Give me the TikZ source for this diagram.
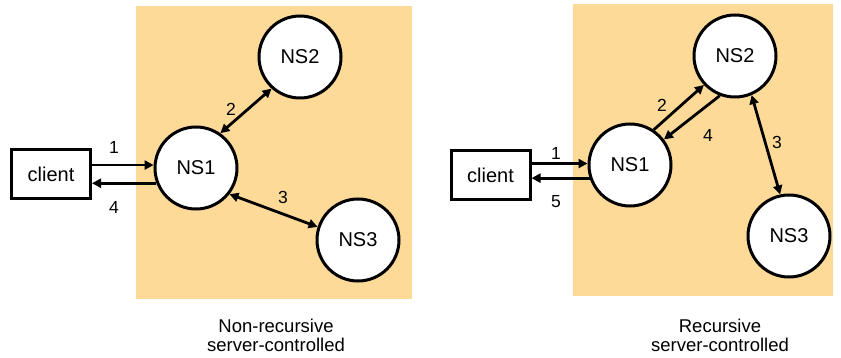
\documentclass[tikz,border=0pt]{standalone}
\usepackage{fontspec}
\setmainfont{Liberation Sans}
\usetikzlibrary{arrows.meta,calc}
\definecolor{panel}{RGB}{253,218,152}
\tikzset{
  ns/.style={circle,draw=black,line width=3pt,fill=white,minimum size=82pt,inner sep=0pt,font=\fontsize{20}{22}\selectfont},
  clientbox/.style={rectangle,draw=black,line width=3pt,fill=white,minimum width=79pt,minimum height=49pt,inner sep=0pt,font=\fontsize{20}{22}\selectfont},
  arr/.style={line width=2.8pt,-{Triangle[length=9pt,width=9pt]}},
  darr/.style={line width=2.8pt,{Triangle[length=9pt,width=9pt]}-{Triangle[length=9pt,width=9pt]}},
  num/.style={font=\fontsize{17.5}{19}\selectfont,inner sep=0pt},
  captext/.style={font=\fontsize{18.5}{20}\selectfont,inner sep=0pt,anchor=base},
}
\begin{document}
\begin{tikzpicture}[x=1pt,y=-1pt]
\useasboundingbox (0,0) rectangle (841,358);
% panels
\fill[panel] (136,6) rectangle (412,299);
\fill[panel] (573,4) rectangle (833,296);
% left
\node[clientbox] (cl) at (51,174.5) {client};
\node[ns] (a1) at (196,168) {NS1};
\node[ns] (a2) at (300,57) {NS2};
\node[ns] (a3) at (358,240) {NS3};
\draw[arr] (cl.east |- a1.176) -- (a1.176);
\draw[arr] (a1.201) -- (cl.east |- a1.201);
\draw[darr] (a1.55) -- (a2.228);
\draw[darr] (a1.-38) -- (a3.162);
\node[num] (la1) at (114,147) {1};
\node[num] (la4) at (114,207) {4};
\node[num] (la2) at (231,109) {2};
\node[num] (la3) at (283,197) {3};
\node[captext] (ca1) at (276,332) {Non-recursive};
\node[captext] (ca2) at (276,351) {server-controlled};
% right
\node[clientbox] (cr) at (490.5,175) {client};
\node[ns] (b1) at (630,165) {NS1};
\node[ns] (b2) at (735,56) {NS2};
\node[ns] (b3) at (789,236) {NS3};
\draw[arr] (cr.east |- b1.178) -- (b1.178);
\draw[arr] (b1.198) -- (cr.east |- b1.198);
\draw[arr] (b1.56) -- (b2.223);
\draw[arr] (b2.249) -- (b1.37);
\draw[darr] (b2.293) -- (b3.102);
\node[num] (lb1) at (556,153) {1};
\node[num] (lb5) at (556,202) {5};
\node[num] (lb2) at (662,105) {2};
\node[num] (lb4) at (708,135) {4};
\node[num] (lb3) at (777,142) {3};
\node[captext] (cb1) at (720,332) {Recursive};
\node[captext] (cb2) at (720,351) {server-controlled};
\end{tikzpicture}
\end{document}
